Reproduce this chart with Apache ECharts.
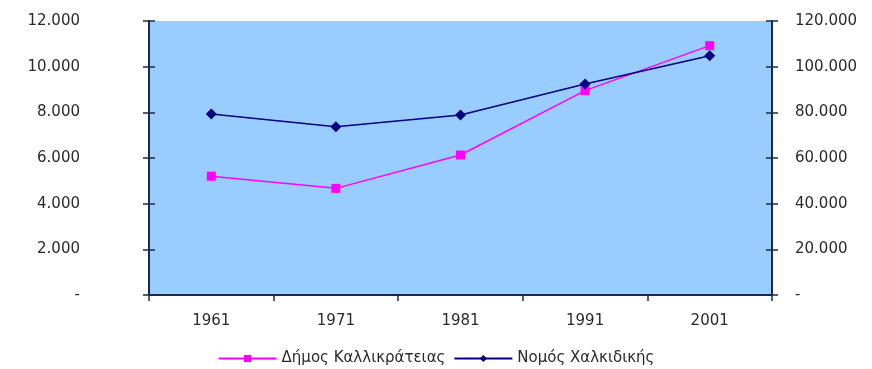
<!DOCTYPE html>
<html>
<head>
<meta charset="utf-8">
<script src="https://cdn.jsdelivr.net/npm/echarts@6/dist/echarts.min.js"></script>
<style>
html,body{margin:0;padding:0;background:#fff;}
#chart{width:872px;height:369px;}
</style>
</head>
<body>
<div id="chart"></div>
<script>
const categories = ['1961', '1971', '1981', '1991', '2001'];
const dimosValues = [5200, 4670, 6130, 8950, 10920];
const nomosValues = [79300, 73700, 78800, 92400, 104800];
const seriesNames = ['Δήμος Καλλικράτειας', 'Νομός Χαλκιδικής'];

function fmt(v) {
  if (v === 0) return '-';
  return String(v).replace(/\B(?=(\d{3})+(?!\d))/g, '.');
}

const FONT = 'DejaVu Sans';
const axisColor = '#1c2a48';
const textColor = '#2a2a2a';
const chart = echarts.init(document.getElementById('chart'));
chart.setOption({
  animation: false,
  backgroundColor: '#ffffff',
  textStyle: { fontFamily: FONT },
  grid: {
    left: 149, right: 100, top: 21, bottom: 74,
    show: true, backgroundColor: '#99CCFF', borderWidth: 0
  },
  legend: {
    data: seriesNames,
    bottom: -2,
    left: 'center',
    itemWidth: 58,
    itemHeight: 9,
    itemGap: 8,
    textStyle: { fontFamily: FONT, fontSize: 15, color: textColor }
  },
  xAxis: {
    type: 'category',
    data: categories,
    boundaryGap: true,
    axisLine: { lineStyle: { color: axisColor, width: 2 } },
    axisTick: { show: true, length: 6, lineStyle: { color: axisColor, width: 1.5 } },
    axisLabel: { margin: 19, fontFamily: FONT, fontSize: 15, color: textColor },
    splitLine: { show: false }
  },
  yAxis: [
    {
      type: 'value', min: 0, max: 12000, interval: 2000, position: 'left',
      axisLine: { show: true, lineStyle: { color: axisColor, width: 2 } },
      axisTick: { show: true, length: 6, lineStyle: { color: axisColor, width: 1.5 } },
      axisLabel: { margin: 69, formatter: fmt, fontFamily: FONT, fontSize: 15, color: textColor },
      splitLine: { show: false }
    },
    {
      type: 'value', min: 0, max: 120000, interval: 20000, position: 'right',
      axisLine: { show: true, lineStyle: { color: axisColor, width: 2 } },
      axisTick: { show: true, length: 6, lineStyle: { color: axisColor, width: 1.5 } },
      axisLabel: { margin: 23, formatter: fmt, fontFamily: FONT, fontSize: 15, color: textColor, align: 'left' },
      splitLine: { show: false }
    },
    {
      type: 'value', min: 0, max: 12000, interval: 2000, position: 'left',
      axisLine: { show: false },
      axisTick: { show: true, inside: true, length: 6, lineStyle: { color: axisColor, width: 1.5 } },
      axisLabel: { show: false },
      splitLine: { show: false }
    },
    {
      type: 'value', min: 0, max: 120000, interval: 20000, position: 'right',
      axisLine: { show: false },
      axisTick: { show: true, inside: true, length: 6, lineStyle: { color: axisColor, width: 1.5 } },
      axisLabel: { show: false },
      splitLine: { show: false }
    }
  ],
  series: [
    {
      name: seriesNames[0],
      type: 'line',
      yAxisIndex: 0,
      data: dimosValues,
      symbol: 'rect',
      symbolSize: 9,
      lineStyle: { color: '#FF00FF', width: 1.5 },
      itemStyle: { color: '#FF00FF' },
      z: 3
    },
    {
      name: seriesNames[1],
      type: 'line',
      yAxisIndex: 1,
      data: nomosValues,
      symbol: 'diamond',
      symbolSize: 11,
      lineStyle: { color: '#000080', width: 1.5 },
      itemStyle: { color: '#000080' },
      z: 4
    }
  ]
});
</script>
</body>
</html>
